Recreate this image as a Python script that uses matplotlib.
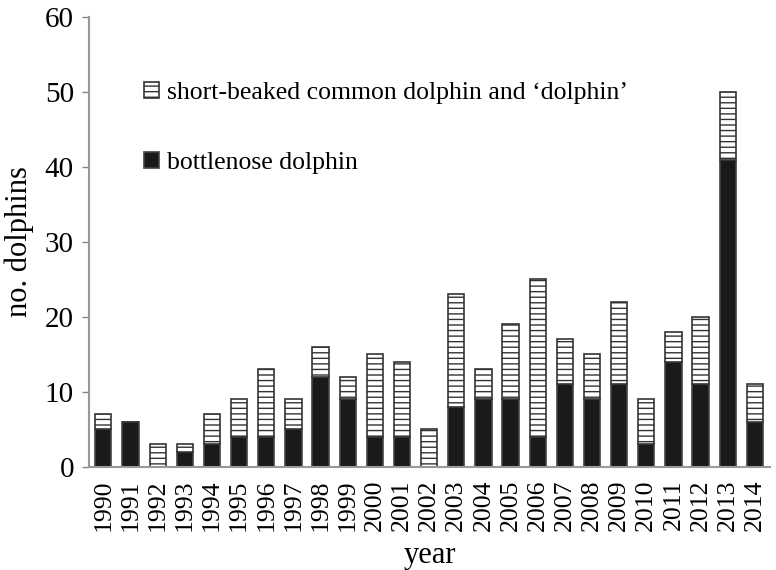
import matplotlib.pyplot as plt
import numpy as np

plt.rcParams['font.family'] = ['Liberation Serif', 'DejaVu Serif']
plt.rcParams['hatch.linewidth'] = 1.0
plt.rcParams['hatch.color'] = '#333333'

years = [str(y) for y in range(1990, 2015)]
bottlenose = [5, 6, 0, 2, 3, 4, 4, 5, 12, 9, 4, 4, 0, 8, 9, 9, 4, 11, 9, 11, 3, 14, 11, 41, 6]
common = [2, 0, 3, 1, 4, 5, 9, 4, 4, 3, 11, 10, 5, 15, 4, 10, 21, 6, 6, 11, 6, 4, 9, 9, 5]

fig = plt.figure(figsize=(7.76, 5.70), dpi=100)
ax = fig.add_axes([0.115, 0.181, 0.877, 0.789])

x = np.arange(len(years))
ax.bar(x, bottlenose, width=0.6, color='#1a1a1a', edgecolor='#444444',
       linewidth=1.2, label='bottlenose dolphin')
ax.bar(x, common, width=0.6, bottom=bottlenose, color='white', edgecolor='#333333',
       linewidth=1.2, hatch='---', label='short-beaked common dolphin and \u2018dolphin\u2019')

ax.set_xlim(-0.52, 24.55)
ax.set_ylim(0, 60)
ax.set_yticks(range(0, 61, 10))
ax.set_xticks(x)
ax.set_xticklabels(years, rotation=90, fontsize=18.5)
ax.tick_params(axis='y', labelsize=21, color='#888888', length=5, width=1, pad=6)
ax.tick_params(axis='x', length=0, pad=9)

for s in ['top', 'right']:
    ax.spines[s].set_visible(False)
for s in ['left', 'bottom']:
    ax.spines[s].set_color('#999999')
    ax.spines[s].set_linewidth(1.5)

ax.set_ylabel('no. dolphins', fontsize=22, labelpad=8)
ax.set_xlabel('year', fontsize=22, labelpad=7)

h, l = ax.get_legend_handles_labels()
ax.legend(h[::-1], l[::-1], loc='upper left', bbox_to_anchor=(0.08, 0.856),
          frameon=False, fontsize=18.5, handlelength=0.6, handleheight=0.6,
          handletextpad=0.3, labelspacing=1.85, borderpad=0, borderaxespad=0)

fig.savefig('out.png', dpi=100)
